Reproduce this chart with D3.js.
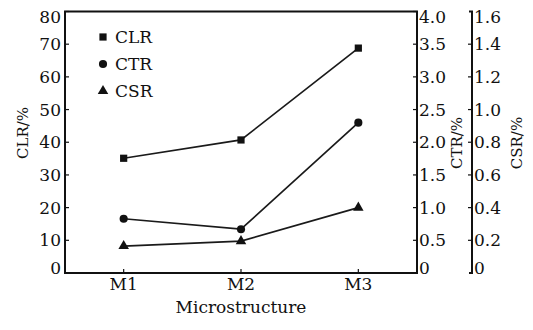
<!DOCTYPE html>
<html>
<head>
<meta charset="utf-8">
<script src="https://cdn.jsdelivr.net/npm/d3@7"></script>
<style>
  html, body { margin: 0; padding: 0; background: #fff; }
  svg text { font-family: "DejaVu Serif", serif; fill: #111; }
</style>
</head>
<body>
<div id="app"></div>
<script>
const categories = ["M1", "M2", "M3"];
const clrValues = [35.1, 40.7, 68.8];
const ctrValues = [0.83, 0.67, 2.3];
const csrValues = [0.165, 0.195, 0.4];
const clrTicks = [0, 10, 20, 30, 40, 50, 60, 70, 80];
const ctrTicks = [0, 0.5, 1.0, 1.5, 2.0, 2.5, 3.0, 3.5, 4.0];
const csrTicks = [0, 0.2, 0.4, 0.6, 0.8, 1.0, 1.2, 1.4, 1.6];

const width = 533;
const height = 330;
const plot = { left: 65, right: 417, top: 11.5, bottom: 273 };
const thirdAxisX = 472;
const tickFont = 17;

const svg = d3
  .select("#app")
  .append("svg")
  .attr("width", width)
  .attr("height", height);

const x = d3
  .scalePoint()
  .domain(categories)
  .range([plot.left, plot.right])
  .padding(0.5);

const yClr = d3.scaleLinear().domain([0, 80]).range([plot.bottom, plot.top]);
const yCtr = d3.scaleLinear().domain([0, 4]).range([plot.bottom, plot.top]);
const yCsr = d3.scaleLinear().domain([0, 1.6]).range([plot.bottom, plot.top]);

// keep the end labels inside the box, like the original
const labelY = (scale, v, i, n) =>
  scale(v) + (i === 0 ? -5 : i === n - 1 ? 6 : 0);

// left axis
const left = svg.append("g").attr("transform", `translate(${plot.left},0)`);
left
  .selectAll("line")
  .data(clrTicks)
  .enter()
  .append("line")
  .attr("x1", 0)
  .attr("x2", 4)
  .attr("y1", (d) => yClr(d))
  .attr("y2", (d) => yClr(d))
  .attr("stroke", "#111")
  .attr("stroke-width", 1.2);
left
  .selectAll("text")
  .data(clrTicks)
  .enter()
  .append("text")
  .attr("x", -4)
  .attr("y", (d, i) => labelY(yClr, d, i, clrTicks.length))
  .attr("dy", "0.35em")
  .attr("text-anchor", "end")
  .attr("font-size", tickFont)
  .text((d) => d);

// right (CTR) axis
const right = svg.append("g").attr("transform", `translate(${plot.right},0)`);
right
  .selectAll("line")
  .data(ctrTicks)
  .enter()
  .append("line")
  .attr("x1", 0)
  .attr("x2", -4)
  .attr("y1", (d) => yCtr(d))
  .attr("y2", (d) => yCtr(d))
  .attr("stroke", "#111")
  .attr("stroke-width", 1.2);
right
  .selectAll("text")
  .data(ctrTicks)
  .enter()
  .append("text")
  .attr("x", 2)
  .attr("y", (d, i) => labelY(yCtr, d, i, ctrTicks.length))
  .attr("dy", "0.35em")
  .attr("font-size", tickFont)
  .text((d) => (d === 0 ? "0" : d3.format(".1f")(d)));

// third (CSR) axis
const third = svg.append("g").attr("transform", `translate(${thirdAxisX},0)`);
third
  .append("path")
  .attr("d", `M-3,${plot.top}H0V${plot.bottom}H-3`)
  .attr("fill", "none")
  .attr("stroke", "#111")
  .attr("stroke-width", 2);
third
  .selectAll("line")
  .data(csrTicks.slice(1, -1))
  .enter()
  .append("line")
  .attr("x1", 0)
  .attr("x2", -4)
  .attr("y1", (d) => yCsr(d))
  .attr("y2", (d) => yCsr(d))
  .attr("stroke", "#111")
  .attr("stroke-width", 1.2);
third
  .selectAll("text")
  .data(csrTicks)
  .enter()
  .append("text")
  .attr("x", 2)
  .attr("y", (d, i) => labelY(yCsr, d, i, csrTicks.length))
  .attr("dy", "0.35em")
  .attr("font-size", tickFont)
  .text((d) => (d === 0 ? "0" : d3.format(".1f")(d)));

// bottom axis ticks + labels
const bottom = svg.append("g").attr("transform", `translate(0,${plot.bottom})`);
bottom
  .selectAll("line")
  .data(categories)
  .enter()
  .append("line")
  .attr("x1", (d) => x(d))
  .attr("x2", (d) => x(d))
  .attr("y1", 0)
  .attr("y2", -4)
  .attr("stroke", "#111")
  .attr("stroke-width", 1.2);
bottom
  .selectAll("text")
  .data(categories)
  .enter()
  .append("text")
  .attr("x", (d) => x(d))
  .attr("y", 17)
  .attr("text-anchor", "middle")
  .attr("font-size", tickFont)
  .text((d) => d);

// plot frame
svg
  .append("rect")
  .attr("x", plot.left)
  .attr("y", plot.top)
  .attr("width", plot.right - plot.left)
  .attr("height", plot.bottom - plot.top)
  .attr("fill", "none")
  .attr("stroke", "#111")
  .attr("stroke-width", 2);

// axis titles
svg
  .append("text")
  .attr("x", x("M2"))
  .attr("y", 313)
  .attr("text-anchor", "middle")
  .attr("font-size", tickFont)
  .text("Microstructure");

const vTitle = (tx, ty, label) =>
  svg
    .append("text")
    .attr("transform", `translate(${tx},${ty}) rotate(-90)`)
    .attr("text-anchor", "middle")
    .attr("dy", "0.35em")
    .attr("font-size", 15)
    .text(label);
vTitle(23, 133, "CLR/%");
vTitle(457, 143, "CTR/%");
vTitle(517, 143, "CSR/%");

// series
const series = [
  { name: "CLR", values: clrValues, scale: yClr, symbol: d3.symbolSquare, size: 52 },
  { name: "CTR", values: ctrValues, scale: yCtr, symbol: d3.symbolCircle, size: 52 },
  { name: "CSR", values: csrValues, scale: yCsr, symbol: d3.symbolTriangle, size: 48 },
];

const line = d3.line();

series.forEach((s) => {
  const pts = categories.map((c, i) => [x(c), s.scale(s.values[i])]);
  svg
    .append("path")
    .attr("d", line(pts))
    .attr("fill", "none")
    .attr("stroke", "#1a1a1a")
    .attr("stroke-width", 1.7);
  svg
    .append("g")
    .selectAll("path")
    .data(pts)
    .enter()
    .append("path")
    .attr("transform", (d) => `translate(${d[0]},${d[1]})`)
    .attr("d", d3.symbol(s.symbol, s.size))
    .attr("fill", "#111");
});

// legend
const legend = svg
  .append("g")
  .selectAll("g")
  .data(series)
  .enter()
  .append("g")
  .attr("transform", (d, i) => `translate(103,${37 + i * 27})`);
legend
  .append("path")
  .attr("d", (d) => d3.symbol(d.symbol, d.size)())
  .attr("fill", "#111");
legend
  .append("text")
  .attr("x", 12)
  .attr("dy", "0.35em")
  .attr("font-size", tickFont)
  .text((d) => d.name);
</script>
</body>
</html>
